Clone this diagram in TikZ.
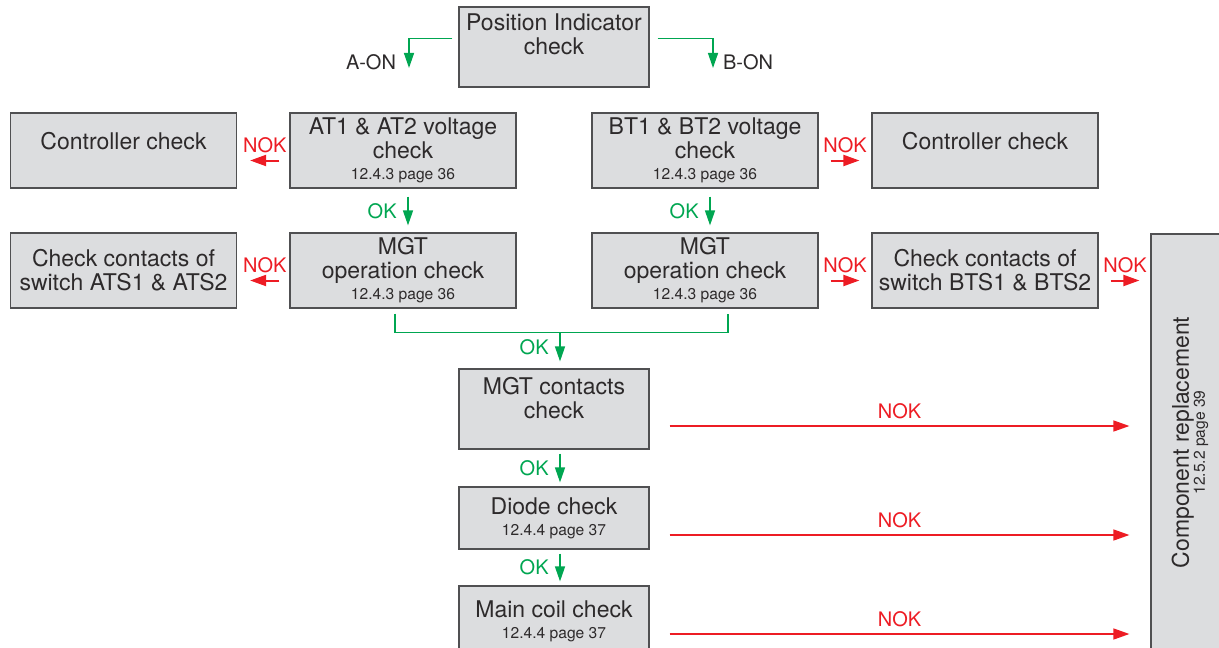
\documentclass[tikz,border=0pt]{standalone}
\usepackage{fontspec}
\setmainfont{TeX Gyre Heros}
\usetikzlibrary{arrows.meta,positioning,calc}
\definecolor{boxfill}{RGB}{220,221,223}
\definecolor{boxline}{RGB}{80,80,82}
\definecolor{txtcol}{RGB}{45,42,43}
\definecolor{okgreen}{RGB}{0,166,81}
\definecolor{nokred}{RGB}{237,28,36}
\newcommand{\mainsz}{\fontsize{11.5}{12}\selectfont}
\newcommand{\subsz}{\fontsize{7.8}{12}\selectfont}
\newcommand{\lblsz}{\fontsize{10}{12}\selectfont}

\begin{document}
\begin{tikzpicture}[
  x=0.5pt,y=-0.5pt,
  box/.style={draw=boxline,fill=boxfill,line width=0.6pt,align=center,font=\mainsz,text=txtcol,inner sep=1pt},
  rowbox/.style={box,minimum width=113pt,minimum height=37.5pt},
  midbox/.style={box,minimum width=95pt},
  lbl/.style={font=\lblsz,text=txtcol},
  oklbl/.style={font=\lblsz,text=okgreen},
  noklbl/.style={font=\lblsz,text=nokred},
  ok/.style={draw=okgreen,line width=0.7pt,-{Triangle[length=7.5pt,width=5pt]}},
  okline/.style={draw=okgreen,line width=0.7pt},
  nok/.style={draw=nokred,line width=1pt,-{Triangle[length=8pt,width=5.5pt]}},
  noklong/.style={nok,line width=0.7pt}]
  \useasboundingbox (0,0) rectangle (1219,647);
  \clip (0,0) rectangle (1219,647);
  % top
  \node[midbox,minimum height=40pt] (pos) at (554,47) {Position Indicator\\check\\[-3pt]\strut};
  \coordinate (aontip) at (409,68);
  \coordinate (bontip) at (713,68);
  \node[lbl,anchor=base east] (aon) at ($(aontip)+(-6,2)$) {A-ON};
  \node[lbl,anchor=base west] (bon) at ($(bontip)+(3,2)$) {B-ON};
  \draw[ok] ($(pos.north west)+(-6,32)$) -| (aontip);
  \draw[ok] ($(pos.north east)+(8,32)$) -| (bontip);
  % voltage row
  \node[rowbox] (ctrlA) at (123.5,150.5) {Controller check\\[-6pt]\strut};
  \node[rowbox] (voltA) at (403,150.5) {AT1 \& AT2 voltage\\check\\[-1.5pt]{\subsz 12.4.3 page 36}};
  \node[rowbox] (voltB) at (705,150.5) {BT1 \& BT2 voltage\\check\\[-1.5pt]{\subsz 12.4.3 page 36}};
  \node[rowbox] (ctrlB) at (985,150.5) {Controller check\\[-6pt]\strut};
  % operation row
  \node[rowbox] (atsA) at (123.5,270.5) {Check contacts of\\switch ATS1 \& ATS2};
  \node[rowbox] (mgtA) at (403,270.5) {MGT\\operation check\\[-1.5pt]{\subsz 12.4.3 page 36}};
  \node[rowbox] (mgtB) at (705,270.5) {MGT\\operation check\\[-1.5pt]{\subsz 12.4.3 page 36}};
  \node[rowbox] (btsB) at (985,270.5) {Check contacts of\\switch BTS1 \& BTS2};
  % middle column
  \node[midbox,minimum height=40pt] (mgtC) at (554,409) {MGT contacts\\check\\[-5pt]\strut};
  \node[midbox,minimum height=31pt] (diode) at (554,518) {Diode check\\[-1.5pt]{\subsz 12.4.4 page 37}};
  \node[midbox,minimum height=35pt] (coil) at (554,621) {Main coil check\\[-1.5pt]{\subsz 12.4.4 page 37}};
  % replacement
  \node[box,minimum width=39pt,minimum height=208.5pt] (comp) at (1190,442.5) {};
  \node[rotate=90,align=center,font=\mainsz,text=txtcol] (compT) at (comp.center) {Component replacement\\[-4pt]{\subsz 12.5.2 page 39}};

  \draw[nok] ($(voltA.west)+(-10,10)$) -- ($(ctrlA.east)+(13,10)$) node[midway,above,noklbl]{NOK};
  \draw[nok] ($(mgtA.west)+(-10,10)$) -- ($(atsA.east)+(13,10)$) node[midway,above,noklbl]{NOK};
  \draw[nok] ($(voltB.east)+(12,10)$) -- ($(ctrlB.west)+(-12,10)$) node[midway,above,noklbl]{NOK};
  \draw[nok] ($(mgtB.east)+(12,10)$) -- ($(btsB.west)+(-12,10)$) node[midway,above,noklbl]{NOK};
  \draw[nok] ($(btsB.east)+(12,10)$) -- ($(btsB.east -| comp.west)+(-11,10)$) node[midway,above,noklbl]{NOK};

  \draw[ok] ($(voltA.south)+(5,8)$) -- ($(mgtA.north)+(5,-7)$) node[midway,left=2pt,oklbl]{OK};
  \draw[ok] ($(voltB.south)+(5,8)$) -- ($(mgtB.north)+(5,-7)$) node[midway,left=2pt,oklbl]{OK};

  \coordinate (join) at ($(mgtC.north)+(6,-36)$);
  \draw[okline] ($(mgtA.south)+(-8,5)$) |- (join) -| ($(mgtB.south)+(23,5)$);
  \draw[ok] (join) -- ($(mgtC.north)+(6,-7)$) node[midway,left=2pt,oklbl]{OK};
  \draw[ok] ($(mgtC.south)+(6,4)$) -- ($(diode.north)+(6,-4)$) node[midway,left=2pt,oklbl]{OK};
  \draw[ok] ($(diode.south)+(6,4)$) -- ($(coil.north)+(6,-4)$) node[midway,left=2pt,oklbl]{OK};

  \draw[noklong] ($(mgtC.east)+(20,17)$) -- ($(mgtC.east -| comp.west)+(-21,17)$) node[midway,above,noklbl]{NOK};
  \draw[noklong] ($(diode.east)+(20,17)$) -- ($(diode.east -| comp.west)+(-21,17)$) node[midway,above,noklbl]{NOK};
  \draw[noklong] ($(coil.east)+(20,13)$) -- ($(coil.east -| comp.west)+(-21,13)$) node[midway,above,noklbl]{NOK};
\end{tikzpicture}
\end{document}
